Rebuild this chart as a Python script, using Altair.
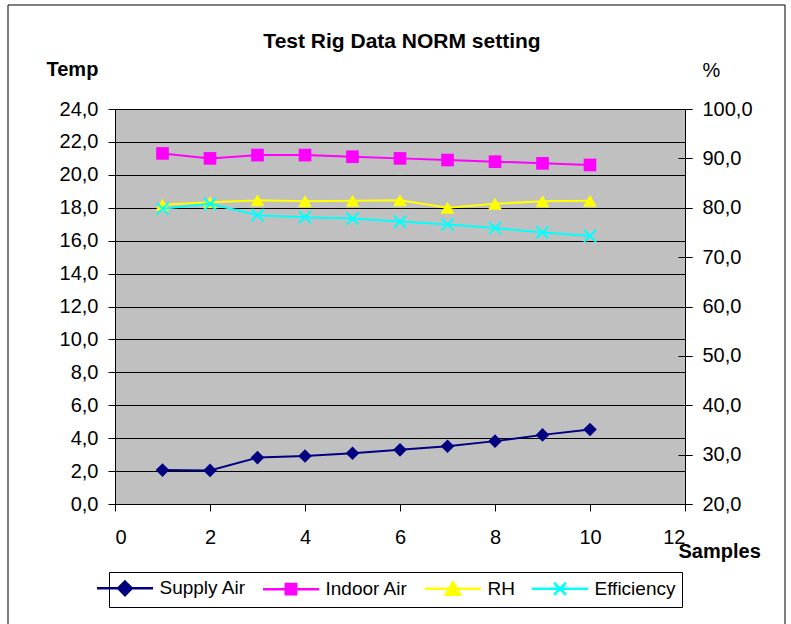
import altair as alt
import pandas as pd

# Measurements per sample
samples = [1, 2, 3, 4, 5, 6, 7, 8, 9, 10]
supply_air = [2.06, 2.04, 2.82, 2.92, 3.08, 3.29, 3.51, 3.82, 4.20, 4.53]
indoor_air = [21.3, 21.0, 21.2, 21.2, 21.1, 21.0, 20.9, 20.8, 20.7, 20.6]
rh = [80.6, 81.1, 81.5, 81.3, 81.4, 81.5, 80.0, 80.8, 81.3, 81.4]
efficiency = [79.8, 80.8, 78.5, 78.1, 77.8, 77.2, 76.6, 75.9, 75.0, 74.3]

series_names = ["Supply Air", "Indoor Air", "RH", "Efficiency"]
series_values = [supply_air, indoor_air, rh, efficiency]
series_colors = ["#000080", "#FF00FF", "#FFFF00", "#00FFFF"]
series_side = ["left", "left", "right", "right"]

temp_ticks = list(range(0, 25, 2))
pct_ticks = list(range(20, 101, 10))
x_ticks = list(range(0, 13, 2))

FONT = "Liberation Sans"

rows = []
for name, vals in zip(series_names, series_values):
    for s, v in zip(samples, vals):
        rows.append({"sample": s, "value": v, "series": name})
df = pd.DataFrame(rows)

# Marker shapes drawn on the plot
X_PATH = "M-1,-1L1,1M-1,1L1,-1"
plot_markers = [
    dict(shape="diamond", filled=True, size=185),
    dict(shape="square", filled=True, size=160),
    dict(shape="triangle-up", filled=True, size=190),
    dict(shape=X_PATH, filled=False, size=150, strokeWidth=2),
]

# Legend symbols: a line segment with the marker in its middle
legend_paths = [
    "M-3.5,0H3.5M0,-0.85L0.85,0L0,0.85L-0.85,0Z",
    "M-3.5,0H3.5M-0.65,-0.65H0.65V0.65H-0.65Z",
    "M-3.5,0H3.5M0,-0.8L0.9,0.75H-0.9Z",
    "M-3.5,0H3.5M-0.75,-0.75L0.75,0.75M-0.75,0.75L0.75,-0.75",
]

comma_fmt = "replace(format(datum.value, '.1f'), '.', ',')"
pct_scale = alt.Scale(domain=[20, 100], nice=False, zero=False)

x_enc = alt.X(
    "sample:Q",
    scale=alt.Scale(domain=[0, 12], nice=False),
    axis=alt.Axis(
        values=x_ticks, format="d", title="Samples", grid=False,
        tickSize=7, labelPadding=16,
        titleX=563, titleY=53, titleAlign="left", titleBaseline="alphabetic",
        titleFontSize=20, titleFontWeight="bold",
    ),
)

y_left = alt.Y(
    "value:Q",
    scale=alt.Scale(domain=[0, 24], nice=False, zero=False),
    axis=alt.Axis(
        orient="left", values=temp_ticks, labelExpr=comma_fmt, title="Temp",
        grid=True, gridColor="black", gridWidth=1, gridOpacity=1,
        tickSize=7, labelPadding=10,
        titleAngle=0, titleX=-69, titleY=-34, titleAlign="left",
        titleBaseline="alphabetic", titleFontSize=20, titleFontWeight="bold",
    ),
)

y_right = alt.Y(
    "value:Q",
    scale=pct_scale,
    axis=alt.Axis(
        orient="right", values=pct_ticks, labelExpr=comma_fmt, title="%",
        grid=False, tickSize=7, labelPadding=10,
        titleAngle=0, titleX=17, titleY=-33, titleAlign="left",
        titleBaseline="alphabetic", titleFontSize=20, titleFontWeight="normal",
    ),
)


def series_layers(idx, y_enc):
    name = series_names[idx]
    color = series_colors[idx]
    base = alt.Chart(df).transform_filter(alt.datum.series == name)
    line = base.mark_line(color=color, strokeWidth=2).encode(x=x_enc, y=y_enc)
    m = plot_markers[idx]
    pts = base.mark_point(color=color, opacity=1, **m).encode(x=x_enc, y=y_enc)
    return [line, pts]


left_layers, right_layers = [], []
for i, side in enumerate(series_side):
    if side == "left":
        left_layers += series_layers(i, y_left)
    else:
        right_layers += series_layers(i, y_right)

left = alt.layer(*left_layers)
right = alt.layer(*right_layers)

# Inner half of the secondary-axis tick marks (they cross the axis line)
right_inner_ticks = (
    alt.Chart(df)
    .transform_filter("false")
    .mark_point()
    .encode(
        y=alt.Y(
            "value:Q", scale=pct_scale,
            axis=alt.Axis(orient="right", values=pct_ticks, labels=False, domain=False,
                          grid=False, title=None, tickSize=14, offset=-7),
        )
    )
)

legend_def = alt.Legend(
    title=None, orient="none", legendX=-6, legendY=463, direction="horizontal",
    symbolSize=256, symbolStrokeWidth=2.5, symbolOpacity=1,
    labelOffset=25, columnPadding=11, padding=6.5,
    strokeColor="black", fillColor="white",
    labelFont=FONT, labelFontSize=19, labelColor="black",
)

legend_layer = (
    alt.Chart(df)
    .transform_filter("false")
    .mark_point(filled=True, opacity=1)
    .encode(
        shape=alt.Shape("series:N", scale=alt.Scale(domain=series_names, range=legend_paths), legend=legend_def),
        fill=alt.Fill("series:N", scale=alt.Scale(domain=series_names, range=series_colors), legend=legend_def),
        stroke=alt.Stroke("series:N", scale=alt.Scale(domain=series_names, range=series_colors), legend=legend_def),
    )
)

# Outer chart frame
frame = (
    alt.Chart(alt.Data(values=[{"f": 1}]))
    .mark_rect(filled=False, stroke="black", strokeWidth=1)
    .encode(x=alt.value(-107), x2=alt.value(670), y=alt.value(-104), y2=alt.value(540))
)

chart = (
    alt.layer(left, right, right_inner_ticks, legend_layer, frame)
    .resolve_scale(y="independent")
    .properties(
        width=570,
        height=395,
        padding={"left": 115, "top": 109, "right": 106, "bottom": 120},
        autosize=alt.AutoSizeParams(type="none"),
        view=alt.ViewBackground(fill="#C0C0C0", stroke="#808080", strokeWidth=1),
        title=alt.Title(
            "Test Rig Data NORM setting", font=FONT, fontSize=21, fontWeight="bold",
            color="black", anchor="middle", frame="group", baseline="alphabetic",
            offset=0, dy=64, dx=2,
        ),
    )
    .configure(background="white")
    .configure_view(fill="#C0C0C0", stroke="#808080", strokeWidth=1)
    .configure_axis(
        labelFont=FONT, labelFontSize=20, labelColor="black",
        titleFont=FONT, titleColor="black",
        domainColor="black", domainWidth=1, tickColor="black", tickWidth=1,
    )
)

chart.save("out.html", embed_options={"renderer": "svg", "actions": False})
